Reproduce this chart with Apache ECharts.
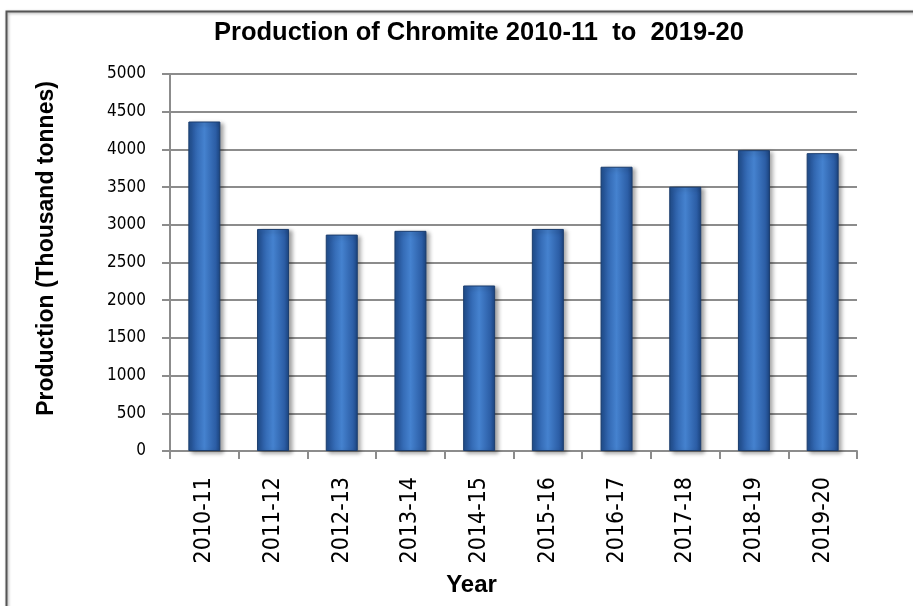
<!DOCTYPE html>
<html>
<head>
<meta charset="utf-8">
<script src="https://cdn.jsdelivr.net/npm/echarts@6/dist/echarts.min.js"></script>
<style>
html,body{margin:0;padding:0;background:#fff;}
#c{width:913px;height:606px;}
</style>
</head>
<body>
<div id="c"></div>
<script>
const titleText = 'Production of Chromite 2010-11  to  2019-20';
const years = ['2010-11','2011-12','2012-13','2013-14','2014-15','2015-16','2016-17','2017-18','2018-19','2019-20'];
const production = [4370, 2945, 2870, 2920, 2195, 2945, 3770, 3505, 3990, 3950];
const yTicks = [0, 500, 1000, 1500, 2000, 2500, 3000, 3500, 4000, 4500, 5000];
const yName = 'Production (Thousand tonnes)';
const xName = 'Year';

const chart = echarts.init(document.getElementById('c'), null, {renderer: 'canvas'});
const tickFont = '"DejaVu Sans Condensed", "DejaVu Sans", sans-serif';
const boldFont = '"Liberation Sans", Arial, sans-serif';

chart.setOption({
  backgroundColor: '#ffffff',
  animation: false,
  graphic: [{
    type: 'rect',
    left: 4, top: 9,
    shape: {x: 0, y: 0, width: 930, height: 620},
    style: {fill: 'none', stroke: '#555', lineWidth: 2, shadowBlur: 3, shadowColor: 'rgba(0,0,0,0.35)', shadowOffsetX: 1, shadowOffsetY: 1},
    silent: true, z: -1
  }],
  title: {
    text: titleText,
    left: 214,
    top: 20,
    padding: 0,
    textStyle: {fontFamily: boldFont, fontWeight: 'bold', fontSize: 25.5, color: '#000'}
  },
  grid: {left: 170, right: 56, top: 74, bottom: 155, containLabel: false},
  xAxis: {
    type: 'category',
    data: years,
    name: xName,
    nameLocation: 'middle',
    nameGap: 122,
    nameTextStyle: {fontFamily: boldFont, fontWeight: 'bold', fontSize: 24, color: '#000', verticalAlign: 'top', padding: [0, 84, 0, 0]},
    axisLine: {lineStyle: {color: '#8c8c8c', width: 2}},
    axisTick: {show: true, alignWithLabel: false, length: 8, lineStyle: {color: '#8c8c8c', width: 2}},
    axisLabel: {rotate: 90, margin: 26, interval: 0, fontFamily: tickFont, fontSize: 23, color: '#000'},
    splitLine: {show: false}
  },
  yAxis: {
    type: 'value',
    min: yTicks[0],
    max: yTicks[yTicks.length - 1],
    interval: yTicks[1] - yTicks[0],
    name: yName,
    nameLocation: 'middle',
    nameGap: 112,
    nameTextStyle: {fontFamily: boldFont, fontWeight: 'bold', fontSize: 23, color: '#000', padding: [0, 0, 0, 28]},
    axisLine: {show: true, lineStyle: {color: '#8c8c8c', width: 2}},
    axisTick: {show: true, length: 8, lineStyle: {color: '#8c8c8c', width: 2}},
    axisLabel: {margin: 24, fontFamily: tickFont, fontSize: 17, color: '#000', formatter: function (v) { return String(v); }},
    splitLine: {show: true, lineStyle: {color: '#8c8c8c', width: 2}}
  },
  series: [{
    type: 'bar',
    data: production,
    barWidth: 32,
    itemStyle: {
      color: new echarts.graphic.LinearGradient(0, 0, 1, 0, [
        {offset: 0, color: '#1f4c88'},
        {offset: 0.15, color: '#2c5fa8'},
        {offset: 0.5, color: '#4582cf'},
        {offset: 0.85, color: '#2c5ea6'},
        {offset: 1, color: '#1b437e'}
      ]),
      borderColor: '#1b3d6e',
      borderWidth: 1,
      shadowColor: 'rgba(0,0,0,0.35)',
      shadowBlur: 4,
      shadowOffsetX: 3,
      shadowOffsetY: 2
    }
  }]
});
</script>
</body>
</html>
